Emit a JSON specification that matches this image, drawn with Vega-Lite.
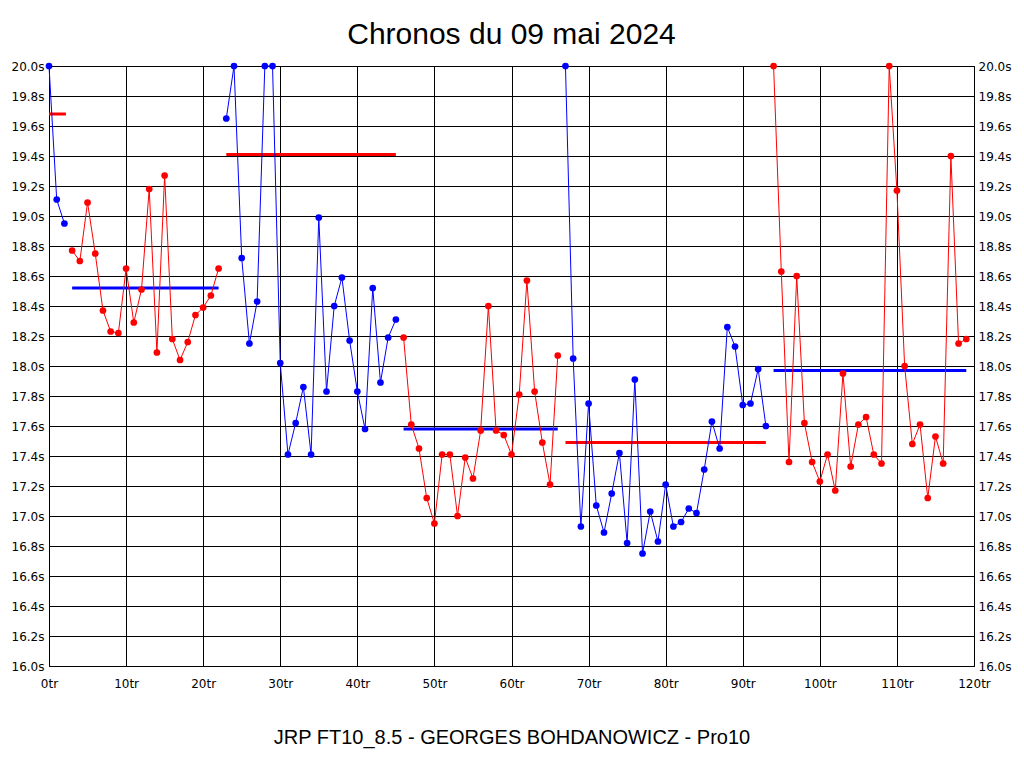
{
  "$schema": "https://vega.github.io/schema/vega-lite/v6.json",
  "width": 925,
  "height": 600,
  "autosize": {"type": "none"},
  "padding": {"left": 49, "top": 66, "right": 50, "bottom": 102},
  "background": "white",
  "title": {"text": "Chronos du 09 mai 2024", "font": "Liberation Sans", "fontSize": 30, "fontWeight": "normal", "color": "black", "offset": 10},
  "config": {
    "view": {"stroke": "black", "strokeWidth": 1},
    "axis": {"labelFont": "DejaVu Sans", "labelFontSize": 12, "labelColor": "black", "ticks": false, "domain": false, "gridColor": "black", "gridOpacity": 1, "gridWidth": 1}
  },
  "datasets": {
    "laps": [
      {"lap": 0, "t": 20.0, "seg": 1, "c": "blue"},
      {"lap": 1, "t": 19.11, "seg": 1, "c": "blue"},
      {"lap": 2, "t": 18.95, "seg": 1, "c": "blue"},
      {"lap": 3, "t": 18.77, "seg": 2, "c": "red"},
      {"lap": 4, "t": 18.70, "seg": 2, "c": "red"},
      {"lap": 5, "t": 19.09, "seg": 2, "c": "red"},
      {"lap": 6, "t": 18.75, "seg": 2, "c": "red"},
      {"lap": 7, "t": 18.37, "seg": 2, "c": "red"},
      {"lap": 8, "t": 18.23, "seg": 2, "c": "red"},
      {"lap": 9, "t": 18.22, "seg": 2, "c": "red"},
      {"lap": 10, "t": 18.65, "seg": 2, "c": "red"},
      {"lap": 11, "t": 18.29, "seg": 2, "c": "red"},
      {"lap": 12, "t": 18.51, "seg": 2, "c": "red"},
      {"lap": 13, "t": 19.18, "seg": 2, "c": "red"},
      {"lap": 14, "t": 18.09, "seg": 2, "c": "red"},
      {"lap": 15, "t": 19.27, "seg": 2, "c": "red"},
      {"lap": 16, "t": 18.18, "seg": 2, "c": "red"},
      {"lap": 17, "t": 18.04, "seg": 2, "c": "red"},
      {"lap": 18, "t": 18.16, "seg": 2, "c": "red"},
      {"lap": 19, "t": 18.34, "seg": 2, "c": "red"},
      {"lap": 20, "t": 18.39, "seg": 2, "c": "red"},
      {"lap": 21, "t": 18.47, "seg": 2, "c": "red"},
      {"lap": 22, "t": 18.65, "seg": 2, "c": "red"},
      {"lap": 23, "t": 19.65, "seg": 3, "c": "blue"},
      {"lap": 24, "t": 20.0, "seg": 3, "c": "blue"},
      {"lap": 25, "t": 18.72, "seg": 3, "c": "blue"},
      {"lap": 26, "t": 18.15, "seg": 3, "c": "blue"},
      {"lap": 27, "t": 18.43, "seg": 3, "c": "blue"},
      {"lap": 28, "t": 20.0, "seg": 3, "c": "blue"},
      {"lap": 29, "t": 20.0, "seg": 3, "c": "blue"},
      {"lap": 30, "t": 18.02, "seg": 3, "c": "blue"},
      {"lap": 31, "t": 17.41, "seg": 3, "c": "blue"},
      {"lap": 32, "t": 17.62, "seg": 3, "c": "blue"},
      {"lap": 33, "t": 17.86, "seg": 3, "c": "blue"},
      {"lap": 34, "t": 17.41, "seg": 3, "c": "blue"},
      {"lap": 35, "t": 18.99, "seg": 3, "c": "blue"},
      {"lap": 36, "t": 17.83, "seg": 3, "c": "blue"},
      {"lap": 37, "t": 18.40, "seg": 3, "c": "blue"},
      {"lap": 38, "t": 18.59, "seg": 3, "c": "blue"},
      {"lap": 39, "t": 18.17, "seg": 3, "c": "blue"},
      {"lap": 40, "t": 17.83, "seg": 3, "c": "blue"},
      {"lap": 41, "t": 17.58, "seg": 3, "c": "blue"},
      {"lap": 42, "t": 18.52, "seg": 3, "c": "blue"},
      {"lap": 43, "t": 17.89, "seg": 3, "c": "blue"},
      {"lap": 44, "t": 18.19, "seg": 3, "c": "blue"},
      {"lap": 45, "t": 18.31, "seg": 3, "c": "blue"},
      {"lap": 46, "t": 18.19, "seg": 4, "c": "red"},
      {"lap": 47, "t": 17.61, "seg": 4, "c": "red"},
      {"lap": 48, "t": 17.45, "seg": 4, "c": "red"},
      {"lap": 49, "t": 17.12, "seg": 4, "c": "red"},
      {"lap": 50, "t": 16.95, "seg": 4, "c": "red"},
      {"lap": 51, "t": 17.41, "seg": 4, "c": "red"},
      {"lap": 52, "t": 17.41, "seg": 4, "c": "red"},
      {"lap": 53, "t": 17.00, "seg": 4, "c": "red"},
      {"lap": 54, "t": 17.39, "seg": 4, "c": "red"},
      {"lap": 55, "t": 17.25, "seg": 4, "c": "red"},
      {"lap": 56, "t": 17.57, "seg": 4, "c": "red"},
      {"lap": 57, "t": 18.40, "seg": 4, "c": "red"},
      {"lap": 58, "t": 17.57, "seg": 4, "c": "red"},
      {"lap": 59, "t": 17.54, "seg": 4, "c": "red"},
      {"lap": 60, "t": 17.41, "seg": 4, "c": "red"},
      {"lap": 61, "t": 17.81, "seg": 4, "c": "red"},
      {"lap": 62, "t": 18.57, "seg": 4, "c": "red"},
      {"lap": 63, "t": 17.83, "seg": 4, "c": "red"},
      {"lap": 64, "t": 17.49, "seg": 4, "c": "red"},
      {"lap": 65, "t": 17.21, "seg": 4, "c": "red"},
      {"lap": 66, "t": 18.07, "seg": 4, "c": "red"},
      {"lap": 67, "t": 20.0, "seg": 5, "c": "blue"},
      {"lap": 68, "t": 18.05, "seg": 5, "c": "blue"},
      {"lap": 69, "t": 16.93, "seg": 5, "c": "blue"},
      {"lap": 70, "t": 17.75, "seg": 5, "c": "blue"},
      {"lap": 71, "t": 17.07, "seg": 5, "c": "blue"},
      {"lap": 72, "t": 16.89, "seg": 5, "c": "blue"},
      {"lap": 73, "t": 17.15, "seg": 5, "c": "blue"},
      {"lap": 74, "t": 17.42, "seg": 5, "c": "blue"},
      {"lap": 75, "t": 16.82, "seg": 5, "c": "blue"},
      {"lap": 76, "t": 17.91, "seg": 5, "c": "blue"},
      {"lap": 77, "t": 16.75, "seg": 5, "c": "blue"},
      {"lap": 78, "t": 17.03, "seg": 5, "c": "blue"},
      {"lap": 79, "t": 16.83, "seg": 5, "c": "blue"},
      {"lap": 80, "t": 17.21, "seg": 5, "c": "blue"},
      {"lap": 81, "t": 16.93, "seg": 5, "c": "blue"},
      {"lap": 82, "t": 16.96, "seg": 5, "c": "blue"},
      {"lap": 83, "t": 17.05, "seg": 5, "c": "blue"},
      {"lap": 84, "t": 17.02, "seg": 5, "c": "blue"},
      {"lap": 85, "t": 17.31, "seg": 5, "c": "blue"},
      {"lap": 86, "t": 17.63, "seg": 5, "c": "blue"},
      {"lap": 87, "t": 17.45, "seg": 5, "c": "blue"},
      {"lap": 88, "t": 18.26, "seg": 5, "c": "blue"},
      {"lap": 89, "t": 18.13, "seg": 5, "c": "blue"},
      {"lap": 90, "t": 17.74, "seg": 5, "c": "blue"},
      {"lap": 91, "t": 17.75, "seg": 5, "c": "blue"},
      {"lap": 92, "t": 17.98, "seg": 5, "c": "blue"},
      {"lap": 93, "t": 17.60, "seg": 5, "c": "blue"},
      {"lap": 94, "t": 20.0, "seg": 6, "c": "red"},
      {"lap": 95, "t": 18.63, "seg": 6, "c": "red"},
      {"lap": 96, "t": 17.36, "seg": 6, "c": "red"},
      {"lap": 97, "t": 18.60, "seg": 6, "c": "red"},
      {"lap": 98, "t": 17.62, "seg": 6, "c": "red"},
      {"lap": 99, "t": 17.36, "seg": 6, "c": "red"},
      {"lap": 100, "t": 17.23, "seg": 6, "c": "red"},
      {"lap": 101, "t": 17.41, "seg": 6, "c": "red"},
      {"lap": 102, "t": 17.17, "seg": 6, "c": "red"},
      {"lap": 103, "t": 17.95, "seg": 6, "c": "red"},
      {"lap": 104, "t": 17.33, "seg": 6, "c": "red"},
      {"lap": 105, "t": 17.61, "seg": 6, "c": "red"},
      {"lap": 106, "t": 17.66, "seg": 6, "c": "red"},
      {"lap": 107, "t": 17.41, "seg": 6, "c": "red"},
      {"lap": 108, "t": 17.35, "seg": 6, "c": "red"},
      {"lap": 109, "t": 20.0, "seg": 6, "c": "red"},
      {"lap": 110, "t": 19.17, "seg": 6, "c": "red"},
      {"lap": 111, "t": 18.00, "seg": 6, "c": "red"},
      {"lap": 112, "t": 17.48, "seg": 6, "c": "red"},
      {"lap": 113, "t": 17.61, "seg": 6, "c": "red"},
      {"lap": 114, "t": 17.12, "seg": 6, "c": "red"},
      {"lap": 115, "t": 17.53, "seg": 6, "c": "red"},
      {"lap": 116, "t": 17.35, "seg": 6, "c": "red"},
      {"lap": 117, "t": 19.40, "seg": 6, "c": "red"},
      {"lap": 118, "t": 18.15, "seg": 6, "c": "red"},
      {"lap": 119, "t": 18.18, "seg": 6, "c": "red"}
    ],
    "avg": [
      {"start": 0, "end": 2.2, "avg": 19.68, "c": "red"},
      {"start": 3, "end": 22, "avg": 18.52, "c": "blue"},
      {"start": 23, "end": 45, "avg": 19.41, "c": "red"},
      {"start": 46, "end": 66, "avg": 17.58, "c": "blue"},
      {"start": 67, "end": 93, "avg": 17.49, "c": "red"},
      {"start": 94, "end": 119, "avg": 17.97, "c": "blue"}
    ]
  },
  "layer": [
    {
      "data": {"name": "avg"},
      "mark": {"type": "rule", "strokeWidth": 3, "strokeCap": "butt"},
      "encoding": {
        "x": {"field": "start", "type": "quantitative", "scale": {"domain": [0, 120], "nice": false, "zero": false},
          "axis": {"grid": true, "values": [0, 10, 20, 30, 40, 50, 60, 70, 80, 90, 100, 110, 120], "labelExpr": "datum.value + 'tr'", "labelPadding": 12, "labelFlush": false, "title": "JRP FT10_8.5 - GEORGES BOHDANOWICZ - Pro10", "titleFont": "Liberation Sans", "titleFontSize": 20, "titleFontWeight": "normal", "titleColor": "black", "titlePadding": 38}},
        "x2": {"field": "end"},
        "y": {"field": "avg", "type": "quantitative", "scale": {"domain": [16, 20], "nice": false, "zero": false},
          "axis": {"orient": "left", "grid": true, "values": [16, 16.2, 16.4, 16.6, 16.8, 17, 17.2, 17.4, 17.6, 17.8, 18, 18.2, 18.4, 18.6, 18.8, 19, 19.2, 19.4, 19.6, 19.8, 20], "labelExpr": "format(datum.value, '.1f') + 's'", "labelPadding": 5, "labelFlush": false, "title": null}},
        "color": {"field": "c", "type": "nominal", "scale": {"domain": ["blue", "red"], "range": ["#0000ff", "#ff0000"]}, "legend": null}
      }
    },
    {
      "data": {"name": "laps"},
      "mark": {"type": "line", "strokeWidth": 1},
      "encoding": {
        "x": {"field": "lap", "type": "quantitative",
          "axis": {"grid": true, "values": [0, 10, 20, 30, 40, 50, 60, 70, 80, 90, 100, 110, 120], "labelExpr": "datum.value + 'tr'", "labelPadding": 12, "labelFlush": false, "title": "JRP FT10_8.5 - GEORGES BOHDANOWICZ - Pro10", "titleFont": "Liberation Sans", "titleFontSize": 20, "titleFontWeight": "normal", "titleColor": "black", "titlePadding": 38}},
        "y": {"field": "t", "type": "quantitative",
          "axis": {"orient": "right", "grid": false, "values": [16, 16.2, 16.4, 16.6, 16.8, 17, 17.2, 17.4, 17.6, 17.8, 18, 18.2, 18.4, 18.6, 18.8, 19, 19.2, 19.4, 19.6, 19.8, 20], "labelExpr": "format(datum.value, '.1f') + 's'", "labelPadding": 4, "labelFlush": false, "title": null}},
        "color": {"field": "c", "type": "nominal", "legend": null},
        "detail": {"field": "seg", "type": "nominal"}
      }
    },
    {
      "data": {"name": "laps"},
      "mark": {"type": "circle", "size": 45, "opacity": 1},
      "encoding": {
        "x": {"field": "lap", "type": "quantitative",
          "axis": {"grid": true, "values": [0, 10, 20, 30, 40, 50, 60, 70, 80, 90, 100, 110, 120], "labelExpr": "datum.value + 'tr'", "labelPadding": 12, "labelFlush": false, "title": "JRP FT10_8.5 - GEORGES BOHDANOWICZ - Pro10", "titleFont": "Liberation Sans", "titleFontSize": 20, "titleFontWeight": "normal", "titleColor": "black", "titlePadding": 38}},
        "y": {"field": "t", "type": "quantitative", "axis": null},
        "color": {"field": "c", "type": "nominal", "legend": null}
      }
    }
  ],
  "resolve": {"axis": {"y": "independent"}}
}
